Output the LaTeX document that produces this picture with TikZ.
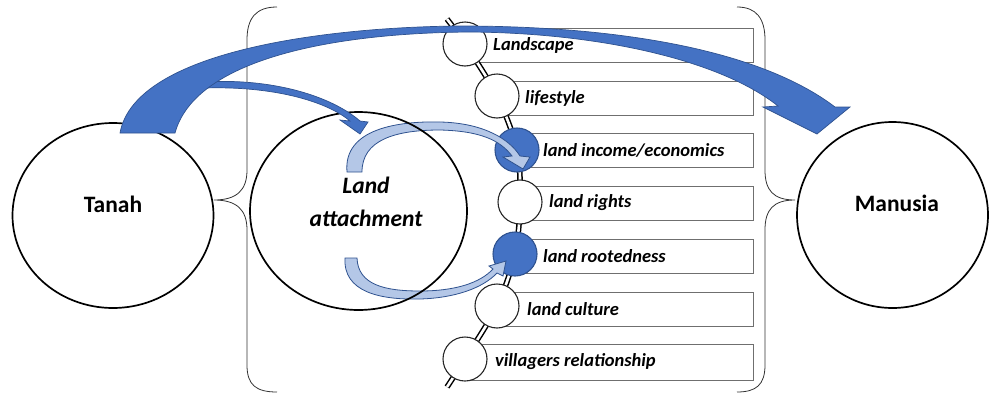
\documentclass[tikz,border=0pt]{standalone}
\usepackage{fontspec}
\setmainfont{Carlito}
\usetikzlibrary{shapes.geometric}
\definecolor{bfill}{HTML}{4472C4}
\definecolor{bline}{HTML}{2F528F}
\definecolor{lfill}{HTML}{B4C7E7}
\definecolor{rowline}{HTML}{6F6F6F}
\begin{document}
\begin{tikzpicture}[x=1pt,y=-1pt,
  bigcirc/.style={ellipse, draw=black, line width=1.7pt, inner sep=0},
  smallc/.style={circle, draw=black!85, line width=1.1pt, fill=white, minimum size=44pt, inner sep=0},
  smallcf/.style={smallc, fill=bfill, draw=bline},
  rowbox/.style={draw=rowline, line width=1pt, fill=white, anchor=north west, inner sep=0, minimum height=34pt},
  itemtxt/.style={anchor=west, inner sep=0, font=\fontsize{18.5}{20}\selectfont\bfseries\itshape},
  bigtxt/.style={font=\fontsize{23.5}{33}\selectfont\bfseries, align=center, inner sep=0},
  brace/.style={draw=black!80, line width=0.8pt},
  bigarrow/.style={fill=bfill, draw=bline, line width=0.7pt},
  lightarrow/.style={fill=lfill, draw=bline, line width=0.8pt},
]
\useasboundingbox (0,0) rectangle (989,394);

% braces
\draw[brace] (277,7) .. controls (256,7) and (247,18) .. (247,40) -- (247,170)
  .. controls (247,190) and (237,200) .. (214,200)
  .. controls (237,200) and (247,210) .. (247,230) -- (247,365)
  .. controls (247,385) and (256,392) .. (277,392);
\draw[brace] (737,7) .. controls (756,7) and (765,18) .. (765,40) -- (765,170)
  .. controls (765,190) and (773,200) .. (795,200)
  .. controls (773,200) and (765,210) .. (765,230) -- (765,365)
  .. controls (765,385) and (756,392) .. (737,392);

% circle centres
\coordinate (p0) at (447,19);
\coordinate (p1) at (465,44);
\coordinate (p2) at (497,96);
\coordinate (p3) at (517,150);
\coordinate (p4) at (520,202);
\coordinate (p5) at (515,254);
\coordinate (p6) at (497,306);
\coordinate (p7) at (465,359);
\coordinate (p8) at (447,387);

% rows
\node[rowbox, minimum width=288pt] (r1) at (465,28) {};
\node[rowbox, minimum width=256pt] (r2) at (497,81) {};
\node[rowbox, minimum width=236pt] (r3) at (517,133) {};
\node[rowbox, minimum width=233pt] (r4) at (520,186) {};
\node[rowbox, minimum width=238pt] (r5) at (515,239) {};
\node[rowbox, minimum width=256pt] (r6) at (497,292) {};
\node[rowbox, minimum width=288pt, minimum height=36pt] (r7) at (465,344) {};

% spine
\draw[line width=1.5pt, double=white, double distance=2.6pt]
  plot[smooth, tension=0.55] coordinates {(p0) (p1) (p2) (p3) (p4) (p5) (p6) (p7) (p8)};

% small circles
\node[smallc]  (c1) at (p1) {};
\node[smallc]  (c2) at (p2) {};
\node[smallcf] (c3) at (p3) {};
\node[smallc]  (c4) at (p4) {};
\node[smallcf] (c5) at (p5) {};
\node[smallc]  (c6) at (p6) {};
\node[smallc]  (c7) at (p7) {};

% item texts
\node[itemtxt] (t1) at (493,45) {Landscape};
\node[itemtxt] (t2) at (525,98) {lifestyle};
\node[itemtxt] (t3) at (543,150) {land income/economics};
\node[itemtxt] (t4) at (549,203) {land rights};
\node[itemtxt] (t5) at (543,256) {land rootedness};
\node[itemtxt] (t6) at (527,309) {land culture};
\node[itemtxt] (t7) at (495,362) {villagers relationship};

% big circles
\node[bigcirc, minimum width=201pt, minimum height=185pt] (tanah) at (113,215.5) {};
\node[bigcirc, minimum width=191pt, minimum height=186pt] (manusia) at (892.5,215) {};
\node[bigtxt] (tanahT) at (113,204) {Tanah};
\node[bigtxt] (manusiaT) at (897,203) {Manusia};

% light circular arrows
\path[lightarrow] (347,172) .. controls (343,128) and (400,121) .. (440,122)
  .. controls (485,123) and (510,140) .. (520,156) -- (530,157) -- (523,169) -- (503,157) -- (512,156)
  .. controls (500,140) and (480,131) .. (440,130)
  .. controls (395,130) and (362,140) .. (362,172) -- cycle;
\path[lightarrow] (345,258) .. controls (343,292) and (380,300) .. (420,299)
  .. controls (455,298) and (483,288) .. (497,273) -- (503,276) -- (506,261) -- (489,266) -- (493,269)
  .. controls (480,283) and (455,291) .. (420,291)
  .. controls (385,291) and (358,285) .. (357,258) -- cycle;

% land attachment circle
\node[bigcirc, minimum width=217pt, minimum height=198pt] (attach) at (358.5,211) {};
\node[bigtxt, font=\fontsize{23.5}{33}\selectfont\bfseries\itshape] (attachT) at (366,202) {Land\\attachment};

% thin dark arrow
\path[bigarrow] (205,82) .. controls (270,78) and (330,95) .. (360,121) -- (368,122) -- (360,134) -- (340,120) -- (350,121)
  .. controls (325,100) and (270,86) .. (205,88) -- cycle;

% big arrow
\path[bigarrow] (120,133) .. controls (135,50) and (330,27) .. (460,26)
  .. controls (620,26) and (760,50) .. (835,107) -- (850,107) -- (817,134) -- (763,107) -- (778,106)
  .. controls (720,60) and (600,33) .. (470,32)
  .. controls (330,33) and (195,60) .. (175,133) -- cycle;
\end{tikzpicture}
\end{document}
